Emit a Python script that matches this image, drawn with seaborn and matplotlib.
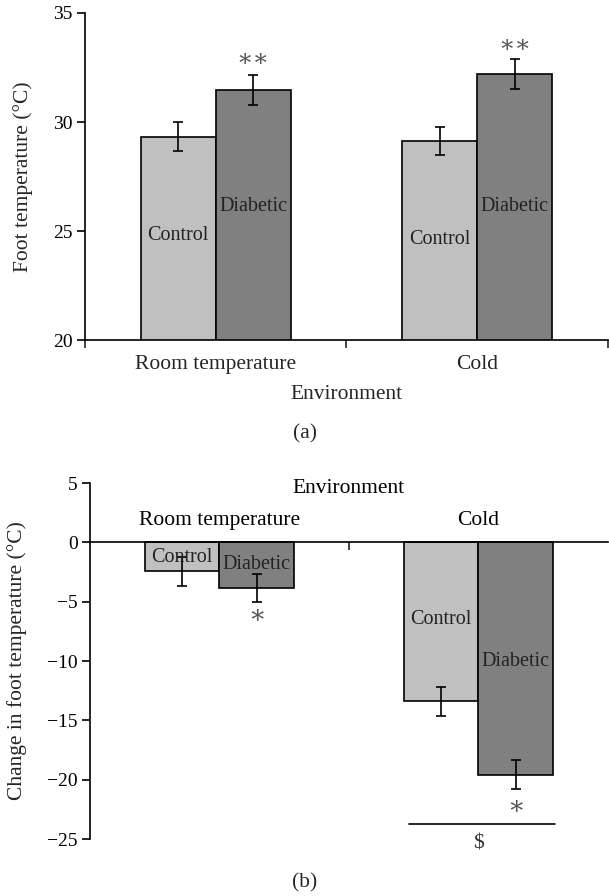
import matplotlib
matplotlib.use("Agg")
import matplotlib.pyplot as plt
import seaborn as sns
import pandas as pd
from matplotlib.ticker import FixedLocator, NullFormatter

# ---------------- data ----------------
environments = ["Room temperature", "Cold"]
groups = ["Control", "Diabetic"]

temp_control = [29.33, 29.13]
temp_diabetic = [31.46, 32.20]
temp_err_control = [0.67, 0.63]
temp_err_diabetic = [0.70, 0.69]

change_control = [-2.44, -13.40]
change_diabetic = [-3.82, -19.58]
change_err_control = [1.22, 1.22]
change_err_diabetic = [1.18, 1.24]

temp_marks = ["**", "**"]        # marks above diabetic bars (panel a)
change_marks = ["*", "*"]        # marks below diabetic bars (panel b)

# --------------- style ----------------
sns.set_theme(style="white")
plt.rcParams["font.family"] = ["Liberation Serif", "DejaVu Serif"]
plt.rcParams["axes.linewidth"] = 1.2
FS_TICK = 14
FS_LAB = 15.5
FS_BAR = 14.5
palette = {"Control": "#c0c0c0", "Diabetic": "#808080"}


def make_df(ctrl, diab, ectrl, ediab):
    rows = []
    for i, env in enumerate(environments):
        rows.append({"Environment": env, "Group": "Control", "value": ctrl[i], "err": ectrl[i]})
        rows.append({"Environment": env, "Group": "Diabetic", "value": diab[i], "err": ediab[i]})
    return pd.DataFrame(rows)


df_a = make_df(temp_control, temp_diabetic, temp_err_control, temp_err_diabetic)
df_b = make_df(change_control, change_diabetic, change_err_control, change_err_diabetic)

fig = plt.figure(figsize=(6.09, 8.96), dpi=100)
ax_a = fig.add_axes([0.1396, 0.6205, 0.8584, 0.3650])
ax_b = fig.add_axes([0.1478, 0.0636, 0.8502, 0.3973])


def draw_bars(ax, df):
    sns.barplot(data=df, x="Environment", y="value", hue="Group",
                order=environments, hue_order=groups, palette=palette,
                width=0.575, edgecolor="black", linewidth=1.2,
                errorbar=None, legend=False, ax=ax, zorder=2)
    bars = sorted([p for p in ax.patches if p.get_width() > 0], key=lambda p: p.get_x())
    xs = [p.get_x() + p.get_width() / 2 for p in bars]
    ordered = df.set_index(["Environment", "Group"]).loc[
        [(e, g) for e in environments for g in groups]]
    ax.errorbar(xs, ordered["value"].values, yerr=ordered["err"].values,
                fmt="none", ecolor="black", elinewidth=1.2, capsize=3.6,
                capthick=1.2, zorder=3)
    return bars, xs, ordered


# ---------------- panel (a) ----------------
bars_a, xs_a, ord_a = draw_bars(ax_a, df_a)
ax_a.set_xlim(-0.5, 1.5)
ax_a.set_ylim(20, 35)
ax_a.set_yticks([20, 25, 30, 35])
ax_a.tick_params(axis="y", direction="out", length=6, width=1.2, labelsize=FS_TICK,
                 left=True, pad=3, colors="black")
ax_a.xaxis.set_minor_locator(FixedLocator([-0.5, 0.5, 1.5]))
ax_a.xaxis.set_minor_formatter(NullFormatter())
ax_a.tick_params(axis="x", which="minor", direction="out", length=6, width=1.2, bottom=True)
ax_a.tick_params(axis="x", which="major", length=0, labelsize=FS_LAB, pad=11)
for s in ["top", "right"]:
    ax_a.spines[s].set_visible(False)
ax_a.spines["left"].set_color("black")
ax_a.spines["bottom"].set_color("black")
ax_a.set_xlabel("Environment", fontsize=FS_LAB, labelpad=8)
ax_a.set_ylabel("Foot temperature (°C)", fontsize=FS_LAB)
ax_a.yaxis.set_label_coords(-0.100, 0.5)

label_y_a = {"Control": [24.8, 24.6], "Diabetic": [26.13, 26.13]}
for i, env in enumerate(environments):
    for j, g in enumerate(groups):
        k = i * 2 + j
        ax_a.text(xs_a[k], label_y_a[g][i], g, ha="center", va="center",
                  fontsize=FS_BAR, color="#222222", zorder=4)
star_y_a = [32.87, 33.5]
for i in range(len(environments)):
    ax_a.text(xs_a[i * 2 + 1], star_y_a[i], temp_marks[i].replace("*", "∗"),
              ha="center", va="center", fontsize=FS_LAB + 2, color="#555555")

fig.text(0.5, 1 - 434 / 896, "(a)", ha="center", va="center", fontsize=FS_LAB)

# ---------------- panel (b) ----------------
bars_b, xs_b, ord_b = draw_bars(ax_b, df_b)
ax_b.set_xlim(-0.5, 1.5)
ax_b.set_ylim(-25, 5)
ax_b.set_yticks([-25, -20, -15, -10, -5, 0, 5])
ax_b.set_yticklabels(["−25", "−20", "−15", "−10", "−5", "0", "5"])
ax_b.tick_params(axis="y", direction="out", length=6, width=1.2, labelsize=FS_TICK,
                 left=True, pad=3, colors="black")
ax_b.spines["bottom"].set_position(("data", 0))
for s in ["top", "right"]:
    ax_b.spines[s].set_visible(False)
ax_b.spines["left"].set_color("black")
ax_b.spines["bottom"].set_color("black")
ax_b.spines["bottom"].set_zorder(5)
ax_b.set_xticks([0, 1])
ax_b.set_xticklabels([])
ax_b.tick_params(axis="x", which="major", length=0)
ax_b.xaxis.set_minor_locator(FixedLocator([0.5]))
ax_b.xaxis.set_minor_formatter(NullFormatter())
ax_b.tick_params(axis="x", which="minor", direction="out", length=6, width=1.2, bottom=True)
ax_b.set_xlabel("")
ax_b.set_ylabel("Change in foot temperature (°C)", fontsize=FS_LAB)
ax_b.yaxis.set_label_coords(-0.122, 0.5)

for i, env in enumerate(environments):
    ax_b.text(i, 1.83, env, ha="center", va="center", fontsize=FS_LAB, color="black")
ax_b.text(0.5, 4.5, "Environment", ha="center", va="center", fontsize=FS_LAB, color="black")

label_y_b = {"Control": [-1.26, -6.49], "Diabetic": [-1.83, -10.06]}
for i, env in enumerate(environments):
    for j, g in enumerate(groups):
        k = i * 2 + j
        ax_b.text(xs_b[k], label_y_b[g][i], g, ha="center", va="center",
                  fontsize=FS_BAR, color="#222222", zorder=4)
star_y_b = [-6.26, -22.33]
for i in range(len(environments)):
    ax_b.text(xs_b[i * 2 + 1], star_y_b[i], change_marks[i].replace("*", "∗"),
              ha="center", va="center", fontsize=FS_LAB + 3, color="#555555")

# "$" comparison between cold groups
left_edge = bars_b[2].get_x() + 0.02
right_edge = bars_b[3].get_x() + bars_b[3].get_width() + 0.01
ax_b.plot([left_edge, right_edge], [-23.76, -23.76], color="black", lw=1.2,
          clip_on=False)
ax_b.text(1.0, -25.4, "$", ha="center", va="center", fontsize=FS_LAB, color="#333333")

fig.text(0.5, 1 - 883 / 896, "(b)", ha="center", va="center", fontsize=FS_LAB)

fig.savefig("out.png", dpi=100)
